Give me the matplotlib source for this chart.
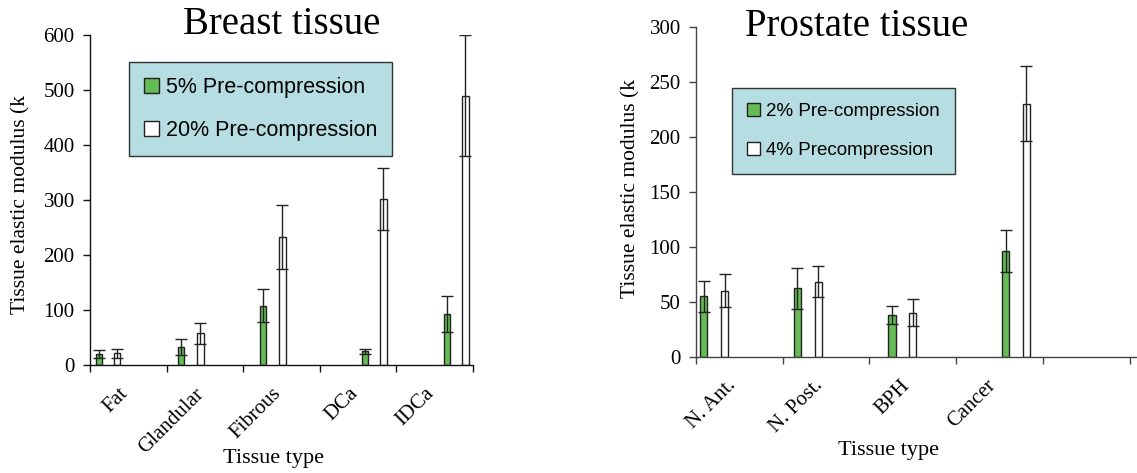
import numpy as np
import matplotlib.pyplot as plt
from matplotlib.patches import Patch

# Breast tissue data (kPa)
breast_types = ['Fat', 'Glandular', 'Fibrous', 'DCa', 'IDCa']
breast_5 = [20, 33, 108, 25, 93]
breast_5_err = [8, 14, 30, 5, 33]
breast_20 = [21, 58, 233, 302, 490]
breast_20_err = [8, 19, 58, 57, 110]

# Prostate tissue data (kPa)
prostate_types = ['N. Ant.', 'N. Post.', 'BPH', 'Cancer']
prostate_2 = [55, 62, 38, 96]
prostate_2_err = [14, 19, 8, 19]
prostate_4 = [60, 68, 40, 230]
prostate_4_err = [15, 14, 12, 34]

green = '#66bb55'
legend_bg = '#b5dde2'
serif = ['Liberation Serif', 'DejaVu Serif']
sans = ['Liberation Sans', 'DejaVu Sans']

fig = plt.figure(figsize=(11.37, 4.73), dpi=100)


def draw_panel(ax, types, v1, e1, v2, e2, xg, xw, lab_off, spine_col, ymax, ystep):
    n = len(types)
    idx = np.arange(n)
    width = 0.085
    ax.bar(xg, v1, width=width, color=green, edgecolor='#222222', linewidth=1.0, zorder=2)
    ax.bar(xw, v2, width=width, color='white', edgecolor='#222222', linewidth=1.0, zorder=2)
    ax.errorbar(xg, v1, yerr=e1, fmt='none', ecolor='#222222', elinewidth=1.0,
                capsize=4, capthick=1.0, zorder=3)
    ax.errorbar(xw, v2, yerr=e2, fmt='none', ecolor='#222222', elinewidth=1.0,
                capsize=4, capthick=1.0, zorder=3)
    for s in ['top', 'right']:
        ax.spines[s].set_visible(False)
    for s in ['left', 'bottom']:
        ax.spines[s].set_color(spine_col)
        ax.spines[s].set_linewidth(1.0)
    ax.set_ylim(0, ymax)
    ax.set_yticks(np.arange(0, ymax + 1, ystep))
    ax.tick_params(axis='both', which='major', direction='out', length=5,
                   color=spine_col, width=1.0)
    ax.tick_params(axis='y', pad=6)
    ax.set_xticks(np.arange(n + 2))
    ax.set_xticklabels([])
    ax.set_xticks(idx + lab_off, minor=True)
    ax.set_xticklabels(types, minor=True, rotation=45, ha='right',
                       rotation_mode='anchor', family=serif, fontsize=15)
    ax.tick_params(axis='x', which='minor', length=0, pad=14)
    for lab in ax.get_yticklabels():
        lab.set_family(serif)
        lab.set_fontsize(15)
    ax.set_ylabel('Tissue elastic modulus (k', family=serif, fontsize=15.5)
    ax.set_xlabel('Tissue type', family=serif, fontsize=16)


# Breast panel
ax1 = fig.add_axes([90 / 1137, 1 - 365 / 473, 383 / 1137, 330 / 473])
draw_panel(ax1, breast_types, breast_5, breast_5_err, breast_20, breast_20_err,
           [0.12, 1.19, 2.26, 3.59, 4.66], [0.35, 1.44, 2.51, 3.83, 4.90], 0.37,
           '#111111', 600, 100)
ax1.set_xlim(0, 5)
ax1.xaxis.set_label_coords(0.48, -0.255)
ax1.yaxis.set_label_coords(-0.155, 0.485)
h1 = [Patch(facecolor=green, edgecolor='#222222'), Patch(facecolor='white', edgecolor='#222222')]
leg1 = ax1.legend(h1, ['5% Pre-compression', '20% Pre-compression'], loc='upper left',
                  bbox_to_anchor=(0.102, 0.918), borderaxespad=0, frameon=True,
                  fancybox=False, facecolor=legend_bg, edgecolor='#333333', framealpha=1,
                  prop={'family': sans, 'size': 15.5}, handlelength=0.7, handleheight=0.7,
                  handletextpad=0.3, labelspacing=1.0, borderpad=0.7)
leg1.get_frame().set_linewidth(1.0)
fig.text(282 / 1137, 1 - 25 / 473, 'Breast tissue', family=serif, fontsize=28,
         ha='center', va='center')

# Prostate panel
ax2 = fig.add_axes([696 / 1137, 1 - 356.7 / 473, 441 / 1137, 330 / 473])
draw_panel(ax2, prostate_types, prostate_2, prostate_2_err, prostate_4, prostate_4_err,
           [0.09, 1.17, 2.26, 3.57], [0.33, 1.41, 2.50, 3.81], 0.35, '#444444', 300, 50)
ax2.set_xlim(0, 441 / 86.7)
ax2.xaxis.set_label_coords(0.436, -0.255)
ax2.yaxis.set_label_coords(-0.125, 0.51)
h2 = [Patch(facecolor=green, edgecolor='#222222'), Patch(facecolor='white', edgecolor='#222222')]
leg2 = ax2.legend(h2, ['2% Pre-compression', '4% Precompression'], loc='upper left',
                  bbox_to_anchor=(0.082, 0.814), borderaxespad=0, frameon=True,
                  fancybox=False, facecolor=legend_bg, edgecolor='#333333', framealpha=1,
                  prop={'family': sans, 'size': 13.5}, handlelength=0.7, handleheight=0.7,
                  handletextpad=0.3, labelspacing=1.15, borderpad=0.8)
leg2.get_frame().set_linewidth(1.0)
fig.text(857 / 1137, 1 - 27 / 473, 'Prostate tissue', family=serif, fontsize=28,
         ha='center', va='center')

fig.savefig('out.png', dpi=100)
